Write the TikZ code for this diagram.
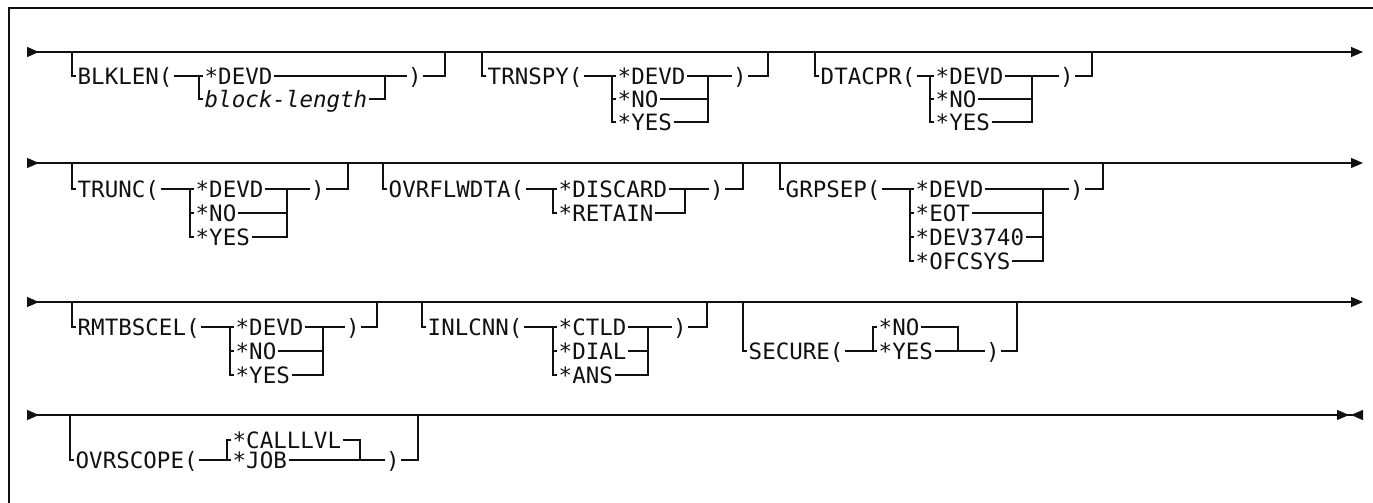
\documentclass[tikz,border=0pt]{standalone}
\usepackage{fontspec}
\usepackage{tikz}
\usetikzlibrary{arrows.meta,positioning}
\newfontfamily\railfont{DejaVu Sans Mono}
\definecolor{railink}{HTML}{111111}
\tikzset{
  kw/.style={
    font=\railfont\fontsize{22.5}{22.5}\selectfont, text=railink,
    anchor=west, inner xsep=1.5pt, inner ysep=0pt,
    text height=16.4pt, text depth=0pt
  },
  varname/.style={kw, font=\railfont\fontsize{22.5}{22.5}\selectfont\itshape},
  paren/.style={kw, anchor=center},
  rail/.style={line width=1.2pt, draw=railink},
  railstart/.style={rail, {Triangle[reversed,length=12pt,width=10pt]}-{Triangle[length=12pt,width=10pt]}},
  railend/.style={rail, {Triangle[reversed,length=12pt,width=10pt]}-{Triangle[length=12pt,width=10pt,sep=2pt]Triangle[reversed,length=12pt,width=10pt]}},
  frameline/.style={line width=1.4pt, draw=railink},
}

\begin{document}
\begin{tikzpicture}[x=1pt,y=-1pt]
  \useasboundingbox (0,0) rectangle (1373,503);
  \draw[frameline] (9,503) -- (9,8) -- (1373,8);

  % row 1
  \coordinate (r1in) at (27,52);
  \coordinate (r1out) at (1363,52);
  \draw[railstart] (r1in) -- (r1out);

  \coordinate (blkdrop) at (72,52);
  \node[kw] (blklen) at (76,76) {BLKLEN(};
  \coordinate (blkj) at (199,76);
  \node[kw] (blkdevd) at (203,76) {*DEVD};
  \node[varname] (blkblen) at (203,99) {block-length};
  \coordinate (blkr) at (385,76);
  \node[paren] (blkcl) at (415,76) {)};
  \coordinate (blkup) at (445,52);
  \draw[rail] (blkdrop) |- (blklen.west);
  \draw[rail] (blklen.east) -- (blkdevd.west);
  \draw[rail] (blkj) |- (blkblen.west);
  \draw[rail] (blkdevd.east) -- (blkcl.west);
  \draw[rail] (blkblen.east) -| (blkr);
  \draw[rail] (blkcl.east) -| (blkup);

  \coordinate (trndrop) at (482,52);
  \node[kw] (trnspy) at (486,76) {TRNSPY(};
  \coordinate (trnj) at (612,76);
  \node[kw] (trndevd) at (616,76) {*DEVD};
  \node[kw] (trnno) at (616,99) {*NO};
  \node[kw] (trnyes) at (616,122) {*YES};
  \coordinate (trnr) at (708,76);
  \node[paren] (trncl) at (740,76) {)};
  \coordinate (trnup) at (768,52);
  \draw[rail] (trndrop) |- (trnspy.west);
  \draw[rail] (trnspy.east) -- (trndevd.west);
  \draw[rail] (trndevd.east) -- (trncl.west);
  \foreach \o in {trnno,trnyes} {
    \draw[rail] (trnj) |- (\o.west);
    \draw[rail] (\o.east) -| (trnr);
  }
  \draw[rail] (trncl.east) -| (trnup);

  \coordinate (dtadrop) at (815,52);
  \node[kw] (dtacpr) at (819,76) {DTACPR(};
  \coordinate (dtaj) at (930,76);
  \node[kw] (dtadevd) at (934,76) {*DEVD};
  \node[kw] (dtano) at (934,99) {*NO};
  \node[kw] (dtayes) at (934,122) {*YES};
  \coordinate (dtar) at (1032,76);
  \node[paren] (dtacl) at (1067,76) {)};
  \coordinate (dtaup) at (1092,52);
  \draw[rail] (dtadrop) |- (dtacpr.west);
  \draw[rail] (dtacpr.east) -- (dtadevd.west);
  \draw[rail] (dtadevd.east) -- (dtacl.west);
  \foreach \o in {dtano,dtayes} {
    \draw[rail] (dtaj) |- (\o.west);
    \draw[rail] (\o.east) -| (dtar);
  }
  \draw[rail] (dtacl.east) -| (dtaup);

  % row 2
  \coordinate (r2in) at (27,163);
  \coordinate (r2out) at (1363,163);
  \draw[railstart] (r2in) -- (r2out);

  \coordinate (trcdrop) at (72,163);
  \node[kw] (trunc) at (76,189) {TRUNC(};
  \coordinate (trcj) at (190,189);
  \node[kw] (trcdevd) at (194,189) {*DEVD};
  \node[kw] (trcno) at (194,213) {*NO};
  \node[kw] (trcyes) at (194,237) {*YES};
  \coordinate (trcr) at (287,189);
  \node[paren] (trccl) at (318,189) {)};
  \coordinate (trcup) at (348,163);
  \draw[rail] (trcdrop) |- (trunc.west);
  \draw[rail] (trunc.east) -- (trcdevd.west);
  \draw[rail] (trcdevd.east) -- (trccl.west);
  \foreach \o in {trcno,trcyes} {
    \draw[rail] (trcj) |- (\o.west);
    \draw[rail] (\o.east) -| (trcr);
  }
  \draw[rail] (trccl.east) -| (trcup);

  \coordinate (ovfdrop) at (383,163);
  \node[kw] (ovrflw) at (387,189) {OVRFLWDTA(};
  \coordinate (ovfj) at (553,189);
  \node[kw] (ovfdisc) at (557,189) {*DISCARD};
  \node[kw] (ovfret) at (557,213) {*RETAIN};
  \coordinate (ovfr) at (685,189);
  \node[paren] (ovfcl) at (717,189) {)};
  \coordinate (ovfup) at (743,163);
  \draw[rail] (ovfdrop) |- (ovrflw.west);
  \draw[rail] (ovrflw.east) -- (ovfdisc.west);
  \draw[rail] (ovfdisc.east) -- (ovfcl.west);
  \draw[rail] (ovfj) |- (ovfret.west);
  \draw[rail] (ovfret.east) -| (ovfr);
  \draw[rail] (ovfcl.east) -| (ovfup);

  \coordinate (grpdrop) at (780,163);
  \node[kw] (grpsep) at (784,189) {GRPSEP(};
  \coordinate (grpj) at (910,189);
  \node[kw] (grpdevd) at (914,189) {*DEVD};
  \node[kw] (grpeot) at (914,213) {*EOT};
  \node[kw] (grpdev) at (914,237) {*DEV3740};
  \node[kw] (grpofc) at (914,261) {*OFCSYS};
  \coordinate (grpr) at (1043,189);
  \node[paren] (grpcl) at (1077,189) {)};
  \coordinate (grpup) at (1103,163);
  \draw[rail] (grpdrop) |- (grpsep.west);
  \draw[rail] (grpsep.east) -- (grpdevd.west);
  \draw[rail] (grpdevd.east) -- (grpcl.west);
  \foreach \o in {grpeot,grpdev,grpofc} {
    \draw[rail] (grpj) |- (\o.west);
    \draw[rail] (\o.east) -| (grpr);
  }
  \draw[rail] (grpcl.east) -| (grpup);

  % row 3
  \coordinate (r3in) at (27,302);
  \coordinate (r3out) at (1363,302);
  \draw[railstart] (r3in) -- (r3out);

  \coordinate (rmtdrop) at (72,302);
  \node[kw] (rmtbscel) at (76,327) {RMTBSCEL(};
  \coordinate (rmtj) at (230,327);
  \node[kw] (rmtdevd) at (234,327) {*DEVD};
  \node[kw] (rmtno) at (234,351) {*NO};
  \node[kw] (rmtyes) at (234,375) {*YES};
  \coordinate (rmtr) at (323,327);
  \node[paren] (rmtcl) at (353,327) {)};
  \coordinate (rmtup) at (377,302);
  \draw[rail] (rmtdrop) |- (rmtbscel.west);
  \draw[rail] (rmtbscel.east) -- (rmtdevd.west);
  \draw[rail] (rmtdevd.east) -- (rmtcl.west);
  \foreach \o in {rmtno,rmtyes} {
    \draw[rail] (rmtj) |- (\o.west);
    \draw[rail] (\o.east) -| (rmtr);
  }
  \draw[rail] (rmtcl.east) -| (rmtup);

  \coordinate (inldrop) at (422,302);
  \node[kw] (inlcnn) at (426,327) {INLCNN(};
  \coordinate (inlj) at (553,327);
  \node[kw] (inlctld) at (557,327) {*CTLD};
  \node[kw] (inldial) at (557,351) {*DIAL};
  \node[kw] (inlans) at (557,375) {*ANS};
  \coordinate (inlr) at (648,327);
  \node[paren] (inlcl) at (680,327) {)};
  \coordinate (inlup) at (707,302);
  \draw[rail] (inldrop) |- (inlcnn.west);
  \draw[rail] (inlcnn.east) -- (inlctld.west);
  \draw[rail] (inlctld.east) -- (inlcl.west);
  \foreach \o in {inldial,inlans} {
    \draw[rail] (inlj) |- (\o.west);
    \draw[rail] (\o.east) -| (inlr);
  }
  \draw[rail] (inlcl.east) -| (inlup);

  \coordinate (secdrop) at (743,302);
  \node[kw] (secure) at (747,351) {SECURE(};
  \coordinate (secj) at (873,351);
  \node[kw] (secno) at (877,327) {*NO};
  \node[kw] (secyes) at (877,351) {*YES};
  \coordinate (secr) at (958,351);
  \node[paren] (seccl) at (993,351) {)};
  \coordinate (secup) at (1017,302);
  \draw[rail] (secdrop) |- (secure.west);
  \draw[rail] (secure.east) -- (secyes.west);
  \draw[rail] (secj) |- (secno.west);
  \draw[rail] (secno.east) -| (secr);
  \draw[rail] (secyes.east) -- (seccl.west);
  \draw[rail] (seccl.east) -| (secup);

  % row 4
  \coordinate (r4in) at (27,415);
  \coordinate (r4out) at (1363,415);
  \draw[railend] (r4in) -- (r4out);

  \coordinate (ovsdrop) at (70,415);
  \node[kw] (ovrscope) at (74,460) {OVRSCOPE(};
  \coordinate (ovsj) at (227,460);
  \node[kw] (ovscall) at (231,440) {*CALLLVL};
  \node[kw] (ovsjob) at (231,460) {*JOB};
  \coordinate (ovsr) at (360,460);
  \node[paren] (ovscl) at (393,460) {)};
  \coordinate (ovsup) at (418,415);
  \draw[rail] (ovsdrop) |- (ovrscope.west);
  \draw[rail] (ovrscope.east) -- (ovsjob.west);
  \draw[rail] (ovsj) |- (ovscall.west);
  \draw[rail] (ovscall.east) -| (ovsr);
  \draw[rail] (ovsjob.east) -- (ovscl.west);
  \draw[rail] (ovscl.east) -| (ovsup);
\end{tikzpicture}
\end{document}
